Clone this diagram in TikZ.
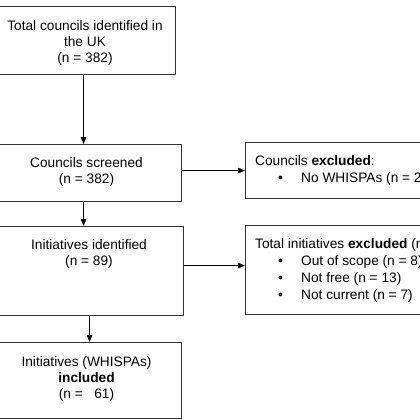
\documentclass[tikz,border=0pt]{standalone}
\usepackage{fontspec}
\setmainfont{Liberation Sans}
\usetikzlibrary{arrows.meta,calc}
\begin{document}
\begin{tikzpicture}[x=1pt,y=-1pt,
  box/.style={draw=black!80, line width=1.1pt, rectangle, inner sep=0pt, anchor=north west},
  txt/.style={inner sep=0pt, font=\fontsize{13.7}{16}\selectfont, align=center, anchor=north},
  ltxt/.style={inner sep=0pt, font=\fontsize{13.7}{17}\selectfont, align=left, anchor=north west},
  arr/.style={draw=black, line width=1pt, -{Triangle[length=7pt,width=5.5pt]}}]
\useasboundingbox (0,0) rectangle (420,420);
\clip (0,0) rectangle (420,420);
\fill[white] (0,0) rectangle (420,420);
% boxes
\node[box, minimum width=180pt, minimum height=68pt] (b1) at (-5,6) {};
\node[box, minimum width=189pt, minimum height=57pt] (b2) at (-8,144) {};
\node[box, minimum width=188pt, minimum height=89pt] (b3) at (-5,226) {};
\node[box, minimum width=189pt, minimum height=76pt] (b4) at (-8,342) {};
\node[box, minimum width=200pt, minimum height=56pt] (b5) at (245,142) {};
\node[box, minimum width=200pt, minimum height=89pt] (b6) at (245,225) {};
% texts
\node[txt] (t1) at (85,20) {Total councils identified in\\the UK\\(n = 382)};
\node[txt] (t2) at (86.5,157) {Councils screened\\(n = 382)};
\node[txt] (t3) at (89,239) {Initiatives identified\\(n = 89)};
\node[txt] (t4) at (86.5,356) {Initiatives (WHISPAs)\\\textbf{included}\\(n =\ \ \ 61)};
\node[ltxt] (t5) at (255,155) {Councils \textbf{excluded}:\\
  \hspace*{23pt}\makebox[23pt][l]{•}No WHISPAs (n = 293)};
\node[ltxt] (t6) at (255,238) {Total initiatives \textbf{excluded} (n = 28)\\
  \hspace*{23pt}\makebox[23pt][l]{•}Out of scope (n = 8)\\
  \hspace*{23pt}\makebox[23pt][l]{•}Not free (n = 13)\\
  \hspace*{23pt}\makebox[23pt][l]{•}Not current (n = 7)};
% arrows
\draw[arr] ([xshift=-2pt]b1.south) -- ([xshift=-2pt]b1.south |- b2.north);
\draw[arr] ([xshift=-3.5pt]b2.south) -- ([xshift=-3.5pt]b2.south |- b3.north);
\draw[arr] (b3.south) -- (b3.south |- b4.north);
\draw[arr] ([yshift=2.5pt]b2.east) -- ([yshift=2.5pt]b2.east -| b5.west);
\draw[arr] ([yshift=5.5pt]b3.east) -- ([yshift=5.5pt]b3.east -| b6.west);
\end{tikzpicture}
\end{document}
